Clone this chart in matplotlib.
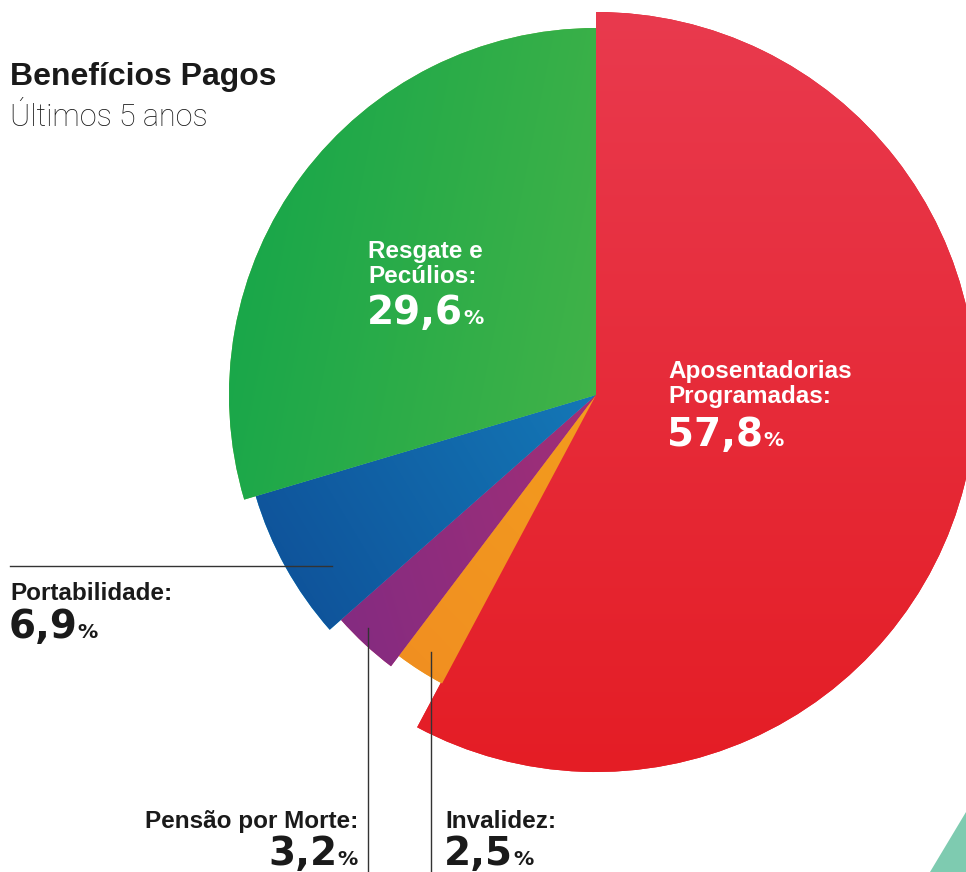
import numpy as np
import matplotlib
matplotlib.use("Agg")
import matplotlib.pyplot as plt
from matplotlib.patches import Polygon

# ---------------- data ----------------
categories = ["Aposentadorias Programadas", "Invalidez", "Pensão por Morte",
              "Portabilidade", "Resgate e Pecúlios"]
values = [57.8, 2.5, 3.2, 6.9, 29.6]
value_labels = ["57,8", "2,5", "3,2", "6,9", "29,6"]
title = "Benefícios Pagos"
subtitle = "Últimos 5 anos"

# gradient colour pairs (start, end) for each slice
grad_colors = [("#E93A4E", "#E41D25"),
               ("#F08A22", "#F6AE1A"),
               ("#7A2A84", "#C9346A"),
               ("#0D4791", "#1BA9DC"),
               ("#13A54A", "#6FC046")]
grad_dirs = [(0, -1), (1, 1), (1, 0.3), (1, 0.6), (1, -0.2)]
radii = [380, 327, 340, 355, 367]

W, H = 966, 872
fig = plt.figure(figsize=(W / 100, H / 100), dpi=100)
ax = fig.add_axes([0, 0, 1, 1])
ax.set_xlim(0, W)
ax.set_ylim(0, H)
ax.axis("off")

def Y(ypx):
    return H - ypx

cx, cy = 596, Y(395)

wedges, _ = ax.pie(values, startangle=90, counterclock=False,
                   center=(cx, cy), radius=1,
                   colors=[c[1] for c in grad_colors],
                   wedgeprops=dict(linewidth=0))
ax.set_aspect("equal")

for i, (w, r, (c0, c1), d) in enumerate(zip(wedges, radii, grad_colors, grad_dirs)):
    w.set_radius(r)
    wx, wy = cx, cy
    if i == 0:
        wy = cy + 3
        w.set_center((wx, wy))
    n = 256
    xx, yy = np.meshgrid(np.linspace(0, 1, n), np.linspace(0, 1, n))
    dx, dy = d
    t = xx * dx + yy * dy
    t = (t - t.min()) / (t.max() - t.min() + 1e-9)
    a = np.array(matplotlib.colors.to_rgb(c0))
    b = np.array(matplotlib.colors.to_rgb(c1))
    img = a[None, None, :] * (1 - t[..., None]) + b[None, None, :] * t[..., None]
    im = ax.imshow(img, extent=(wx - r, wx + r, wy - r, wy + r), origin="lower",
                   zorder=w.get_zorder() + 0.1, interpolation="bilinear")
    im.set_clip_path(w)

ax.set_xlim(0, W)
ax.set_ylim(0, H)

# decorative triangle bottom right
ax.add_patch(Polygon([[966, Y(812)], [930, Y(872)], [966, Y(872)]],
                     closed=True, facecolor="#7ECBB0", edgecolor="none"))

# leader lines
lc = "#333333"
ax.plot([10, 332], [Y(566), Y(566)], color=lc, lw=1.0)
ax.plot([368, 368], [Y(628), Y(872)], color=lc, lw=1.0)
ax.plot([431, 431], [Y(652), Y(872)], color=lc, lw=1.0)

LBL = "Liberation Sans"
NUM = "DejaVu Sans"

# titles
ax.text(10, Y(85), title, fontsize=23, fontweight="bold", family=LBL,
        color="#1a1a1a", va="baseline", ha="left")
ax.text(10, Y(126), subtitle, fontsize=22, fontweight="light", family="Roboto",
        color="#1a1a1a", va="baseline", ha="left")

def label(x, lines_y, lines, num, num_y, color, ha="left", size=17.5, nsize=28):
    for ln, ly in zip(lines, lines_y):
        ax.text(x, Y(ly), ln, fontsize=size, fontweight="bold", family=LBL,
                color=color, va="baseline", ha=ha)
    if ha == "left":
        t = ax.text(x - 1, Y(num_y), num, fontsize=nsize, fontweight="bold",
                    family=NUM, color=color, va="baseline", ha="left")
        ax.annotate("%", xy=(1, Y(num_y)), xycoords=(t, "data"),
                    fontsize=nsize * 0.52, fontweight="bold", family=NUM,
                    color=color, va="baseline", ha="left")
    else:
        p = ax.text(x, Y(num_y), "%", fontsize=nsize * 0.52, fontweight="bold",
                    family=NUM, color=color, va="baseline", ha="right")
        ax.annotate(num, xy=(0, Y(num_y)), xycoords=(p, "data"),
                    fontsize=nsize, fontweight="bold", family=NUM,
                    color=color, va="baseline", ha="right")

label(368, [258, 283], ["Resgate e", "Pecúlios:"], value_labels[4], 324, "white")
label(668, [378, 403], ["Aposentadorias", "Programadas:"], value_labels[0], 446, "white")
label(10, [600], ["Portabilidade:"], value_labels[3], 638, "#1a1a1a")
label(358, [828], ["Pensão por Morte:"], value_labels[2], 865, "#1a1a1a", ha="right")
label(445, [828], ["Invalidez:"], value_labels[1], 865, "#1a1a1a")

fig.savefig("out.png", dpi=100)
